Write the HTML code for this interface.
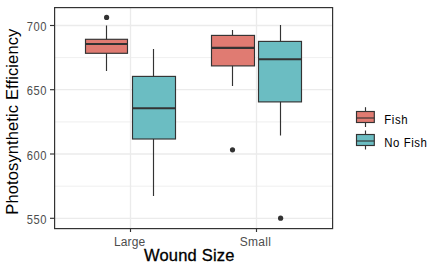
<!DOCTYPE html>
<html><head><meta charset="utf-8">
<style>
html,body{margin:0;padding:0;background:#fff;width:441px;height:272px;overflow:hidden}
svg{display:block}
text{font-family:"Liberation Sans",sans-serif}
</style></head><body>
<svg width="441" height="272" viewBox="0 0 441 272">
<rect x="0" y="0" width="441" height="272" fill="#fff"/>
<!-- minor grid -->
<g stroke="#EBEBEB" stroke-width="0.8" fill="none">
<line x1="54.5" y1="57.6" x2="332.5" y2="57.6"/>
<line x1="54.5" y1="121.9" x2="332.5" y2="121.9"/>
<line x1="54.5" y1="186.2" x2="332.5" y2="186.2"/>
</g>
<!-- major grid -->
<g stroke="#EBEBEB" stroke-width="1.3" fill="none">
<line x1="54.5" y1="25.5" x2="332.5" y2="25.5"/>
<line x1="54.5" y1="89.7" x2="332.5" y2="89.7"/>
<line x1="54.5" y1="154.0" x2="332.5" y2="154.0"/>
<line x1="54.5" y1="218.3" x2="332.5" y2="218.3"/>
<line x1="130.5" y1="7" x2="130.5" y2="228"/>
<line x1="256.5" y1="7" x2="256.5" y2="228"/>
</g>
<!-- boxes -->
<g stroke="#333333" stroke-width="1.15">
<!-- Fish Large -->
<line x1="106.5" y1="25.5" x2="106.5" y2="71"/>
<rect x="85.5" y="39.3" width="42" height="14" fill="#E07B72"/>
<line x1="85.5" y1="44.0" x2="127.5" y2="44.0" stroke-width="2.1"/>
<!-- NF Large -->
<line x1="153.5" y1="49" x2="153.5" y2="196"/>
<rect x="132.5" y="76.4" width="43" height="62.6" fill="#6BBDC2"/>
<line x1="132.5" y1="108.3" x2="175.5" y2="108.3" stroke-width="2.1"/>
<!-- Fish Small -->
<line x1="232.5" y1="30" x2="232.5" y2="86"/>
<rect x="211.5" y="35.4" width="43" height="30.5" fill="#E07B72"/>
<line x1="211.5" y1="47.9" x2="254.5" y2="47.9" stroke-width="2.1"/>
<!-- NF Small -->
<line x1="280.5" y1="25" x2="280.5" y2="135.5"/>
<rect x="258.5" y="41.4" width="43" height="60.5" fill="#6BBDC2"/>
<line x1="258.5" y1="59.3" x2="301.5" y2="59.3" stroke-width="2.1"/>
</g>
<g fill="#333333">
<circle cx="106.6" cy="17.4" r="2.6"/>
<circle cx="232.5" cy="149.8" r="2.6"/>
<circle cx="280.6" cy="218.2" r="2.6"/>
</g>
<!-- panel border -->
<rect x="54.6" y="7.6" width="278" height="221" fill="none" stroke="#333333" stroke-width="1.2"/>
<!-- ticks -->
<g stroke="#333333" stroke-width="1.15">
<line x1="50" y1="25.5" x2="54.5" y2="25.5"/>
<line x1="50" y1="89.7" x2="54.5" y2="89.7"/>
<line x1="50" y1="154.0" x2="54.5" y2="154.0"/>
<line x1="50" y1="218.3" x2="54.5" y2="218.3"/>
<line x1="130.5" y1="228" x2="130.5" y2="232"/>
<line x1="256.5" y1="228" x2="256.5" y2="232"/>
</g>
<!-- axis text -->
<g fill="#4D4D4D" font-size="12">
<g transform="translate(46.9,31.2) scale(0.93,1.06)"><text text-anchor="end" letter-spacing="0.55">700</text></g>
<g transform="translate(46.9,95.1) scale(0.93,1.06)"><text text-anchor="end" letter-spacing="0.55">650</text></g>
<g transform="translate(46.9,159.8) scale(0.93,1.06)"><text text-anchor="end" letter-spacing="0.55">600</text></g>
<g transform="translate(46.9,224.0) scale(0.93,1.06)"><text text-anchor="end" letter-spacing="0.55">550</text></g>
</g>
<g fill="#4D4D4D" font-size="12">
<text x="114" y="245.8" textLength="31.2" lengthAdjust="spacing">Large</text>
<text x="239.7" y="245.8" textLength="31.2" lengthAdjust="spacing">Small</text>
</g>
<text x="144" y="260.9" font-size="16.5" textLength="90.5" lengthAdjust="spacing" fill="#000" stroke="#000" stroke-width="0.3">Wound Size</text>
<text transform="translate(18.3,214.7) rotate(-90)" font-size="16.5" textLength="186" lengthAdjust="spacing" fill="#000">Photosynthetic Efficiency</text>
<!-- legend -->
<g stroke="#333333" stroke-width="1.15">
<line x1="365.5" y1="107.2" x2="365.5" y2="127"/>
<rect x="356.5" y="111.5" width="17.8" height="11" fill="#E07B72"/>
<line x1="356.5" y1="118.0" x2="374.3" y2="118.0"/>
<line x1="365.5" y1="130.5" x2="365.5" y2="149.5"/>
<rect x="356.5" y="134.5" width="17.8" height="11" fill="#6BBDC2"/>
<line x1="356.5" y1="141.0" x2="374.3" y2="141.0"/>
</g>
<g fill="#000" font-size="12">
<g transform="translate(384.3,123.6) scale(0.95,1.1)"><text textLength="24.6" lengthAdjust="spacing">Fish</text></g>
<g transform="translate(384.3,146.5) scale(0.95,1.1)"><text textLength="44.9" lengthAdjust="spacing">No Fish</text></g>
</g>
</svg>
</body></html>
